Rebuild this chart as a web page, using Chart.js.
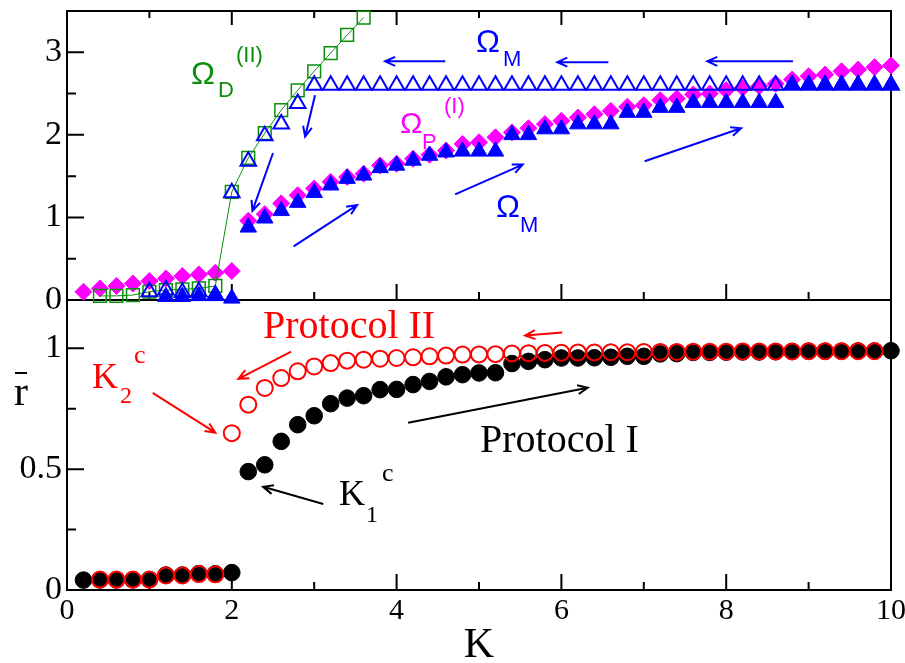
<!DOCTYPE html>
<html>
<head>
<meta charset="utf-8">
<script src="https://cdn.jsdelivr.net/npm/chart.js@4.4.0/dist/chart.umd.min.js"></script>
<style>
  html, body { margin: 0; padding: 0; background: #fff; }
  #wrap { position: relative; width: 905px; height: 663px; }
  #wrap canvas { position: absolute; left: 0; top: 0; }
</style>
</head>
<body>
<div id="wrap">
  <canvas id="rChart" width="905" height="663"></canvas>
  <canvas id="omegaChart" width="905" height="663"></canvas>
</div>
<script>
// Coupling strength K (same grid for every series)
const kValues = [0.2, 0.4, 0.6, 0.8, 1.0, 1.2, 1.4, 1.6, 1.8, 2.0,
  2.2, 2.4, 2.6, 2.8, 3.0, 3.2, 3.4, 3.6, 3.8, 4.0,
  4.2, 4.4, 4.6, 4.8, 5.0, 5.2, 5.4, 5.6, 5.8, 6.0,
  6.2, 6.4, 6.6, 6.8, 7.0, 7.2, 7.4, 7.6, 7.8, 8.0,
  8.2, 8.4, 8.6, 8.8, 9.0, 9.2, 9.4, 9.6, 9.8, 10.0];

// Top panel: frequencies
const omegaP1 = [0.10, 0.14, 0.17, 0.20, 0.23, 0.26, 0.29, 0.31, 0.33, 0.35,
  0.96, 1.04, 1.17, 1.27, 1.35, 1.43, 1.49, 1.53, 1.63, 1.65,
  1.71, 1.76, 1.81, 1.89, 1.91, 1.97, 2.03, 2.08, 2.13, 2.17,
  2.21, 2.25, 2.29, 2.34, 2.36, 2.42, 2.44, 2.49, 2.50, 2.54,
  2.57, 2.59, 2.62, 2.67, 2.71, 2.73, 2.77, 2.79, 2.82, 2.84];
const omegaM1 = [null, null, null, null, null, 0.04, 0.04, 0.05, 0.05, 0.02,
  0.88, 0.99, 1.08, 1.18, 1.30, 1.39, 1.47, 1.51, 1.60, 1.63,
  1.69, 1.75, 1.79, 1.80, 1.80, 1.80, 2.00, 2.00, 2.07, 2.07,
  2.13, 2.13, 2.13, 2.27, 2.27, 2.33, 2.33, 2.39, 2.39, 2.39,
  2.39, 2.39, 2.39, 2.61, 2.61, 2.61, 2.61, 2.61, 2.61, 2.61];
const omegaM2 = [null, null, null, null, 0.10, 0.12, 0.09, 0.10, 0.06, 1.30,
  1.68, 1.99, 2.13, 2.38, 2.60, 2.60, 2.60, 2.60, 2.60, 2.60,
  2.60, 2.60, 2.60, 2.60, 2.60, 2.60, 2.60, 2.60, 2.60, 2.60,
  2.60, 2.60, 2.60, 2.60, 2.60, 2.60, 2.60, 2.60, 2.60, 2.60,
  2.60, 2.60, 2.60, 2.60, 2.60, 2.60, 2.60, 2.60, 2.60, 2.60];
const omegaD2 = [null, 0.05, 0.05, 0.06, 0.10, 0.12, 0.13, 0.14, 0.17, 1.31,
  1.72, 2.02, 2.30, 2.54, 2.77, 2.99, 3.21, 3.42];

// Bottom panel: mean order parameter
const rProtocol1 = [0.041, 0.042, 0.042, 0.042, 0.043, 0.062, 0.062, 0.068, 0.067, 0.072,
  0.490, 0.518, 0.615, 0.684, 0.721, 0.771, 0.794, 0.804, 0.829, 0.830,
  0.850, 0.863, 0.882, 0.891, 0.898, 0.899, 0.937, 0.946, 0.953, 0.960,
  0.960, 0.961, 0.963, 0.967, 0.967, 0.977, 0.978, 0.983, 0.983, 0.984,
  0.985, 0.985, 0.986, 0.987, 0.988, 0.988, 0.988, 0.989, 0.989, 0.990];
const rProtocol2 = [null, 0.043, 0.043, 0.043, 0.043, 0.060, 0.060, 0.066, 0.065, 0.649,
  0.767, 0.836, 0.877, 0.905, 0.925, 0.939, 0.949, 0.953, 0.957, 0.960,
  0.963, 0.967, 0.970, 0.974, 0.975, 0.976, 0.979, 0.980, 0.981, 0.982,
  0.983, 0.983, 0.984, 0.984, 0.985, 0.985, 0.985, 0.986, 0.986, 0.986,
  0.987, 0.987, 0.987, 0.987, 0.988, 0.988, 0.988, 0.988, 0.988, null];

// Tick values
const kTicks = [0, 1, 2, 3, 4, 5, 6, 7, 8, 9, 10];
const omegaTicks = [0, 0.5, 1, 1.5, 2, 2.5, 3, 3.5];
const rTicks = [0, 0.25, 0.5, 0.75, 1];

const BLUE = '#0000ff', MAGENTA = '#ff00ff', GREEN = '#0a8f0a', RED = '#ff0000', BLACK = '#000000';
const SERIF = '"Liberation Serif", "Times New Roman", serif';
const SANS = '"Liberation Sans", Arial, sans-serif';

function toPoints(values) {
  return values.map((v, i) => (v == null ? null : { x: kValues[i], y: v })).filter(Boolean);
}

function isStep(v, step) {
  return Math.abs(v / step - Math.round(v / step)) < 1e-6;
}

// Box around the plot area with inward tick marks
function framePlugin(cfg) {
  return {
    id: 'frame',
    beforeDatasetsDraw(chart) {
      const { ctx, chartArea: a } = chart;
      const xs = chart.scales.x, ys = chart.scales.y;
      ctx.save();
      ctx.strokeStyle = BLACK;
      ctx.lineWidth = 2;
      ctx.strokeRect(a.left, a.top, a.right - a.left, a.bottom - a.top);
      ctx.beginPath();
      xs.ticks.forEach(t => {
        const px = xs.getPixelForValue(t.value);
        const major = isStep(t.value, 2);
        if (cfg.xBottom) {
          ctx.moveTo(px, a.bottom);
          ctx.lineTo(px, a.bottom - (major ? 16 : 8));
        }
        if (cfg.xTop) {
          ctx.moveTo(px, a.top);
          ctx.lineTo(px, a.top + (major ? 14 : 7));
        }
      });
      ys.ticks.forEach(t => {
        const py = ys.getPixelForValue(t.value);
        ctx.moveTo(a.left, py);
        ctx.lineTo(a.left + (isStep(t.value, cfg.yMajor) ? 17 : 9), py);
      });
      ctx.stroke();
      ctx.restore();
    }
  };
}

function drawArrow(ctx, x1, y1, x2, y2, color) {
  const ang = Math.atan2(y2 - y1, x2 - x1);
  const len = 11, spread = 0.42;
  ctx.strokeStyle = color;
  ctx.lineWidth = 2;
  ctx.beginPath();
  ctx.moveTo(x1, y1);
  ctx.lineTo(x2, y2);
  ctx.moveTo(x2 - len * Math.cos(ang - spread), y2 - len * Math.sin(ang - spread));
  ctx.lineTo(x2, y2);
  ctx.lineTo(x2 - len * Math.cos(ang + spread), y2 - len * Math.sin(ang + spread));
  ctx.stroke();
}

// Arrows are given in data units, labels in canvas pixels
function notesPlugin(arrows, labels, extra) {
  return {
    id: 'notes',
    afterDatasetsDraw(chart) {
      const { ctx } = chart;
      const xs = chart.scales.x, ys = chart.scales.y;
      ctx.save();
      arrows.forEach(([k1, v1, k2, v2, color]) => {
        drawArrow(ctx, xs.getPixelForValue(k1), ys.getPixelForValue(v1),
          xs.getPixelForValue(k2), ys.getPixelForValue(v2), color);
      });
      ctx.textAlign = 'left';
      ctx.textBaseline = 'alphabetic';
      labels.forEach(l => {
        ctx.font = l.size + 'px ' + l.font;
        ctx.fillStyle = l.color;
        ctx.fillText(l.text, l.x, l.y);
      });
      if (extra) extra(ctx);
      ctx.restore();
    }
  };
}

const omegaArrows = [
  [8.81, 2.89, 7.77, 2.89, BLUE],
  [6.57, 2.88, 5.95, 2.88, BLUE],
  [4.59, 2.89, 3.86, 2.89, BLUE],
  [3.01, 2.48, 2.89, 1.98, BLUE],
  [2.50, 1.78, 2.25, 1.08, BLUE],
  [2.75, 0.65, 3.52, 1.15, BLUE],
  [4.71, 1.28, 5.53, 1.64, BLUE],
  [7.01, 1.68, 8.18, 2.08, BLUE]
];
const omegaLabels = [
  { text: 'Ω', x: 191, y: 84, size: 32, font: SANS, color: GREEN },
  { text: 'D', x: 218, y: 97, size: 22, font: SANS, color: GREEN },
  { text: '(II)', x: 236, y: 62, size: 22, font: SANS, color: GREEN },
  { text: 'Ω', x: 476, y: 52, size: 32, font: SANS, color: BLUE },
  { text: 'M', x: 503, y: 66, size: 22, font: SANS, color: BLUE },
  { text: 'Ω', x: 400, y: 133, size: 30, font: SANS, color: MAGENTA },
  { text: 'P', x: 422, y: 149, size: 22, font: SANS, color: MAGENTA },
  { text: '(I)', x: 444, y: 113, size: 22, font: SANS, color: MAGENTA },
  { text: 'Ω', x: 496, y: 217, size: 32, font: SANS, color: BLUE },
  { text: 'M', x: 520, y: 232, size: 22, font: SANS, color: BLUE }
];

const rArrows = [
  [2.72, 0.986, 2.08, 0.874, RED],
  [1.04, 0.816, 1.80, 0.651, RED],
  [6.01, 1.066, 5.56, 1.053, RED],
  [3.11, 0.356, 2.38, 0.427, BLACK],
  [4.14, 0.692, 6.32, 0.837, BLACK]
];
const rLabels = [
  { text: 'Protocol II', x: 263, y: 338, size: 40, font: SERIF, color: RED },
  { text: 'K', x: 92, y: 388, size: 36, font: SERIF, color: RED },
  { text: '2', x: 120, y: 403, size: 24, font: SERIF, color: RED },
  { text: 'c', x: 134, y: 363, size: 26, font: SERIF, color: RED },
  { text: 'Protocol I', x: 480, y: 452, size: 40, font: SERIF, color: BLACK },
  { text: 'K', x: 339, y: 505, size: 36, font: SERIF, color: BLACK },
  { text: '1', x: 366, y: 522, size: 24, font: SERIF, color: BLACK },
  { text: 'c', x: 382, y: 481, size: 26, font: SERIF, color: BLACK },
  { text: 'r', x: 14, y: 405, size: 42, font: SERIF, color: BLACK }
];

// overbar of the r axis label
function drawRBar(ctx) {
  ctx.strokeStyle = BLACK;
  ctx.lineWidth = 2;
  ctx.beginPath();
  ctx.moveTo(15, 373);
  ctx.lineTo(27, 373);
  ctx.stroke();
}

function yScale(min, max, ticks, labelStep) {
  return {
    type: 'linear', min: min, max: max,
    grid: { display: false, drawTicks: false },
    border: { display: false },
    ticks: {
      color: BLACK, padding: 5, autoSkip: false,
      font: { family: SERIF, size: 34, lineHeight: 1 },
      callback: v => (isStep(v, labelStep) ? String(v) : '')
    },
    afterBuildTicks: s => { s.ticks = ticks.map(v => ({ value: v })); },
    afterFit: s => { s.width = 67; s.paddingTop = 0; s.paddingBottom = 0; }
  };
}

const common = {
  responsive: false,
  animation: false,
  events: [],
  plugins: { legend: { display: false }, tooltip: { enabled: false } }
};

// Lower panel: r vs K
new Chart(document.getElementById('rChart'), {
  type: 'scatter',
  data: {
    datasets: [
      {
        data: toPoints(rProtocol2), clip: false,
        pointStyle: 'circle', pointRadius: 8, pointBorderWidth: 2,
        pointBackgroundColor: 'rgba(0,0,0,0)', pointBorderColor: RED
      },
      {
        data: toPoints(rProtocol1), clip: false,
        pointStyle: 'circle', pointRadius: 8.3, pointBorderWidth: 1,
        pointBackgroundColor: BLACK, pointBorderColor: BLACK
      }
    ]
  },
  options: {
    ...common,
    layout: { padding: { left: 0, right: 14, top: 300, bottom: 0 } },
    scales: {
      x: {
        type: 'linear', min: 0, max: 10,
        grid: { display: false, drawTicks: false },
        border: { display: false },
        ticks: {
          color: BLACK, padding: 3, autoSkip: false, maxRotation: 0,
          font: { family: SERIF, size: 30 },
          callback: v => (isStep(v, 2) ? String(v) : '')
        },
        title: {
          display: true, text: 'K', color: BLACK,
          font: { family: SERIF, size: 42, lineHeight: 0.8 },
          padding: { top: 0, bottom: 0 }
        },
        afterBuildTicks: s => { s.ticks = kTicks.map(v => ({ value: v })); },
        afterFit: s => { s.height = 73; s.paddingLeft = 0; s.paddingRight = 0; }
      },
      y: yScale(0, 1.2, rTicks, 0.5)
    }
  },
  plugins: [framePlugin({ xBottom: true, xTop: false, yMajor: 0.5 }),
    notesPlugin(rArrows, rLabels, drawRBar)]
});

// Upper panel: frequencies vs K
new Chart(document.getElementById('omegaChart'), {
  type: 'scatter',
  data: {
    datasets: [
      {
        data: toPoints(omegaM1), clip: false,
        pointStyle: 'triangle', pointRadius: 9.5, pointBorderWidth: 1,
        pointBackgroundColor: BLUE, pointBorderColor: BLUE
      },
      {
        data: toPoints(omegaM2), clip: false,
        pointStyle: 'triangle', pointRadius: 9, pointBorderWidth: 2,
        pointBackgroundColor: 'rgba(0,0,0,0)', pointBorderColor: BLUE
      },
      {
        data: toPoints(omegaD2), clip: false, showLine: true,
        borderColor: GREEN, borderWidth: 1,
        pointStyle: 'rect', pointRadius: 9, pointBorderWidth: 1.5,
        pointBackgroundColor: 'rgba(0,0,0,0)', pointBorderColor: GREEN
      },
      {
        data: toPoints(omegaP1), clip: false,
        pointStyle: 'rectRot', pointRadius: 8.5, pointBorderWidth: 1,
        pointBackgroundColor: MAGENTA, pointBorderColor: MAGENTA
      }
    ]
  },
  options: {
    ...common,
    layout: { padding: { left: 0, right: 14, top: 11, bottom: 363 } },
    scales: {
      x: {
        type: 'linear', min: 0, max: 10,
        grid: { display: false, drawTicks: false },
        border: { display: false },
        ticks: { display: false },
        afterBuildTicks: s => { s.ticks = kTicks.map(v => ({ value: v })); },
        afterFit: s => { s.height = 0; s.paddingLeft = 0; s.paddingRight = 0; }
      },
      y: yScale(0, 3.5, omegaTicks, 1)
    }
  },
  plugins: [framePlugin({ xBottom: true, xTop: true, yMajor: 1 }),
    notesPlugin(omegaArrows, omegaLabels)]
});
</script>
</body>
</html>
